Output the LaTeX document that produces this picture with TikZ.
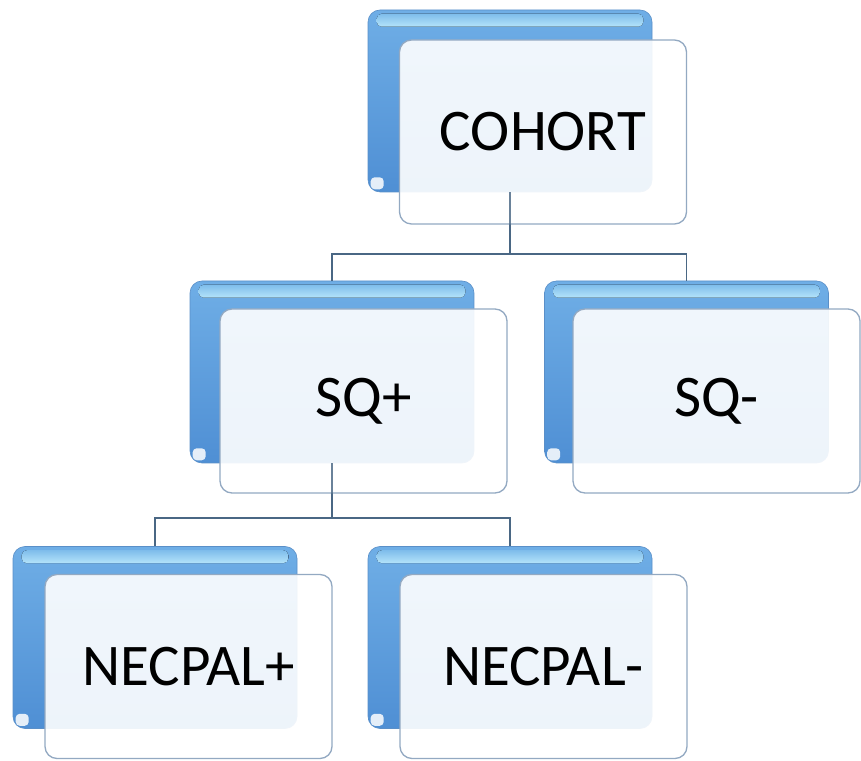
\documentclass[tikz,border=0pt]{standalone}
\usepackage{fontspec}
\setmainfont{Carlito}
\begin{document}
\begin{tikzpicture}[x=1pt,y=1pt,
  backbox/.style={rectangle, rounded corners=12pt, minimum width=284pt, minimum height=182pt,
    inner sep=0pt, draw=backedge, line width=0.6pt, top color=backtop, bottom color=backbot},
  frontbox/.style={rectangle, rounded corners=12pt, minimum width=287pt, minimum height=184pt,
    inner sep=0pt, draw=frontedge, line width=1.3pt, fill=white, fill opacity=0.9, text opacity=1,
    font=\fontsize{59}{70}\selectfont, text=black},
  hl/.style={rounded corners=5pt, top color=hltop, bottom color=hlbot},
  conn/.style={draw=connc, line width=1.6pt}]
\definecolor{backtop}{HTML}{6FAEE6}
\definecolor{backbot}{HTML}{4F8FD4}
\definecolor{backedge}{HTML}{5A8FC8}
\definecolor{hltop}{HTML}{7FBDEB}
\definecolor{hlbot}{HTML}{B4E4FA}
\definecolor{frontedge}{HTML}{93A9C2}
\definecolor{connc}{HTML}{4A6784}
\fill[white] (0,0) rectangle (861,760);
\useasboundingbox (0,0) rectangle (861,760);
\coordinate (bus1) at (0,506);
\coordinate (bus2) at (0,242);
\foreach \n/\x/\y in {cohort/510/659, sqp/332/388, sqm/686.5/388, necp/155/122.5, necm/510/122.5}{
  \node[backbox] (\n B) at (\x,\y) {};
  \fill[hl] ([xshift=9pt,yshift=-4pt]\n B.north west) rectangle ([xshift=-9pt,yshift=-17pt]\n B.north east);
  \fill[white, opacity=0.85, rounded corners=4pt] ([xshift=3pt,yshift=3pt]\n B.south west) rectangle ([xshift=16pt,yshift=15pt]\n B.south west);
}
\draw[conn] (cohortB.south) -- (cohortB.south |- bus1) -| (sqpB.north);
\draw[conn] (cohortB.south |- bus1) -| (sqmB.north);
\draw[conn] (sqpB.south) -- (sqpB.south |- bus2) -| (necpB.north);
\draw[conn] (sqpB.south |- bus2) -| (necmB.north);
\node[frontbox] (cohortF) at (543,628) {COHORT};
\node[frontbox] (sqpF) at (363.5,359) {SQ+};
\node[frontbox] (sqmF) at (716.5,359) {SQ-};
\node[frontbox] (necpF) at (188.5,93.5) {NECPAL+};
\node[frontbox] (necmF) at (543.5,93.5) {NECPAL-};
\draw[conn, draw opacity=0.8] (cohortB.south) -- (cohortB.south |- cohortF.south);
\draw[conn, draw opacity=0.8] (sqpB.south) -- (sqpB.south |- sqpF.south);
\end{tikzpicture}
\end{document}
